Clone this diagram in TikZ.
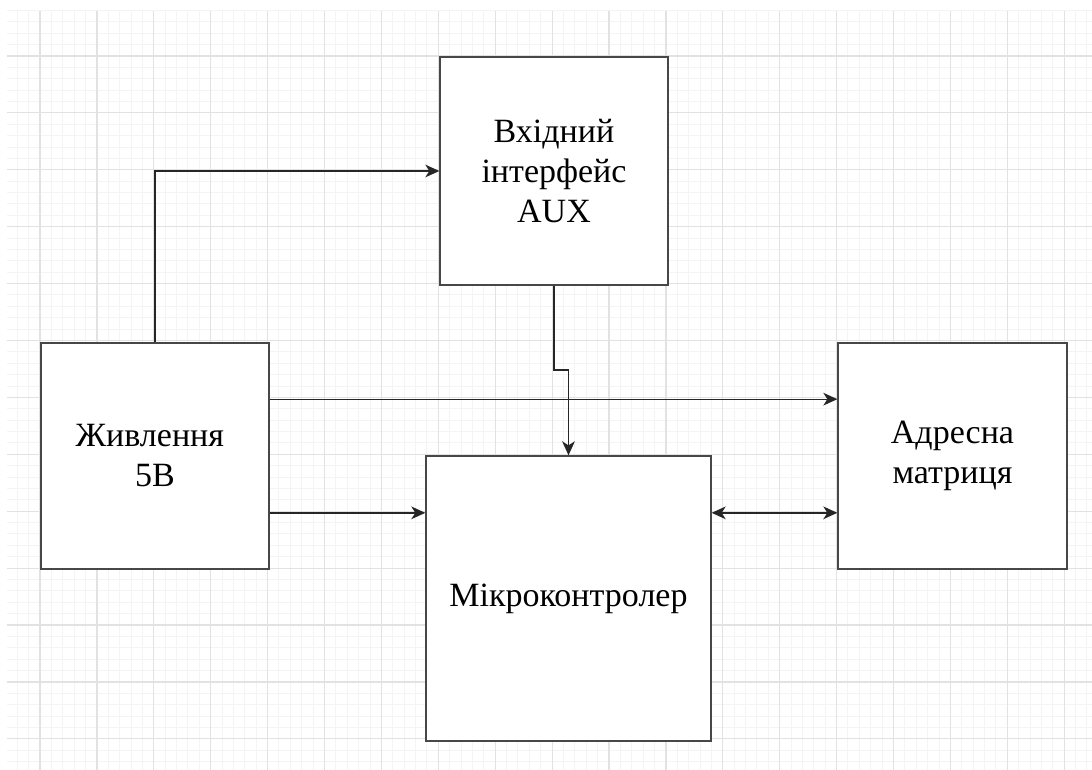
\documentclass[tikz,border=0pt]{standalone}
\usepackage{fontspec}
\setmainfont{Liberation Serif}
\usetikzlibrary{arrows.meta,calc}
\definecolor{gminor}{HTML}{F4F4F4}
\definecolor{gmajor}{HTML}{E2E2E2}
\tikzset{
  blk/.style={draw=black!72, line width=1pt, fill=white, align=center, inner sep=0pt,
    font=\fontsize{25.5pt}{30pt}\selectfont},
  tip/.tip={Stealth[length=10.5pt,width=9.5pt,inset=3pt]},
  arr/.style={draw=black!85, line width=1pt, -tip},
  darr/.style={draw=black!85, line width=1pt, tip-tip},
  minorline/.style={draw=gminor, line width=0.75pt},
  majorline/.style={draw=gmajor, line width=0.9pt}
}
\begin{document}
\begin{tikzpicture}[x=0.75pt,y=-0.75pt]
\useasboundingbox (0,0) rectangle (1092,770);
\fill[white] (0,0) rectangle (1092,770);
% grid
\begin{scope}
\clip (7,11) rectangle (1092,770);
\foreach \i in {-3,...,95} {\draw[minorline] ({40+\i*11.38},11) -- ({40+\i*11.38},770);}
\foreach \j in {-4,...,63} {\draw[minorline] (7,{56+\j*11.38}) -- (1092,{56+\j*11.38});}
\foreach \i in {0,...,18} {\draw[majorline] ({40+\i*56.9},11) -- ({40+\i*56.9},770);}
\foreach \j in {0,...,12} {\draw[majorline] (7,{56+\j*56.9}) -- (1092,{56+\j*56.9});}
\end{scope}
% blocks
\node[blk, minimum width=171pt, minimum height=171pt] (T) at (554,171)
  {Вхідний\\ інтерфейс\hspace*{0.3em}\\ AUX};
\node[blk, minimum width=171pt, minimum height=169.5pt] (L) at (155,456)
  {Живлення\hspace*{0.3em}\\ 5В};
\node[blk, minimum width=171.75pt, minimum height=169.5pt] (R) at (952.5,456)
  {Адресна\\ матриця};
\node[blk, minimum width=213.75pt, minimum height=213.75pt] (M) at (568.5,598.5)
  {Мікроконтролер};
% connectors
\coordinate (a1) at ($(L.north east)!0.25!(L.south east)$);
\coordinate (a2) at ($(L.north east)!0.75!(L.south east)$);
\coordinate (k1) at (554,370);
\draw[arr] (L.north) |- (T.west);
\draw[arr] (a1) -- (R.west |- a1);
\draw[arr] (a2) -- (M.west |- a2);
\draw[darr] (M.east |- a2) -- (R.west |- a2);
\draw[arr] (T.south) -- (k1) -| (M.north);
\end{tikzpicture}
\end{document}
